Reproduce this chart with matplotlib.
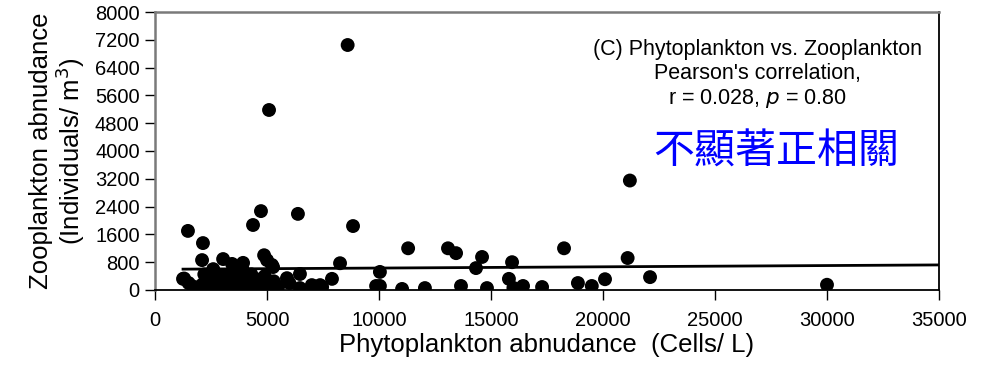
import numpy as np
import matplotlib
matplotlib.use('Agg')
import matplotlib.pyplot as plt

plt.rcParams['font.family'] = ['Liberation Sans', 'DejaVu Sans']

# Phytoplankton (cells/L) vs zooplankton (ind/m3)
phyto = [8600, 5090, 21200, 30000, 22100, 11300, 13080, 13440, 14600, 14330,
         15940, 15800, 16000, 16430, 17280, 18260, 18880, 19500, 20090, 21100,
         10040, 10040, 11030, 12050, 13660, 14820, 8840, 8260, 7900, 9870,
         1470, 2140, 4730, 4375, 6380, 2100, 3040, 3930, 4870, 5000,
         5270, 6470, 7050, 7460, 5890, 6470, 2590, 1250, 5220, 7000,
         7370, 1300, 1500, 1700, 1900, 2100, 2200, 2300, 2500, 2600,
         2700, 2900, 3100, 3200, 3400, 3500, 3600, 3800, 3900, 4000,
         4200, 4300, 4400, 4600, 4700, 4900, 5100, 5300, 5500, 6000,
         3440, 2900, 4100]
zoo = [7050, 5180, 3150, 150, 370, 1200, 1200, 1060, 950, 630,
       800, 320, 60, 115, 85, 1200, 200, 115, 310, 920,
       520, 115, 30, 55, 115, 55, 1840, 770, 320, 115,
       1700, 1350, 2270, 1870, 2190, 860, 890, 780, 1000, 860,
       660, 460, 115, 85, 340, 55, 575, 320, 720, 140,
       140, 330, 200, 100, 50, 150, 450, 20, 300, 600,
       80, 200, 400, 30, 250, 500, 120, 350, 600, 60,
       200, 450, 20, 300, 130, 400, 50, 250, 100, 200,
       750, 380, 330]

# regression line as reported (zoo = a + b * phyto)
fit_intercept = 595
fit_slope = 0.0036

x_ticks = np.arange(0, 35001, 5000)
y_ticks = np.arange(0, 8001, 800)

title_lines = "(C) Phytoplankton vs. Zooplankton\nPearson's correlation,\nr = 0.028, $\\it{p}$ = 0.80"
note_cn = '不顯著正相關'

fig = plt.figure(figsize=(9.95, 3.66), dpi=100)
ax = fig.add_axes([0.1558, 0.2077, 0.7879, 0.7595])

ax.scatter(phyto, zoo, s=100, c='black', edgecolors='none', zorder=3)

xs = np.array([min(phyto), 35000])
ax.plot(xs, fit_intercept + fit_slope * xs, color='black', lw=2, zorder=2)

ax.set_xlim(0, 35000)
ax.set_ylim(0, 8000)
ax.set_xticks(x_ticks)
ax.set_yticks(y_ticks)
ax.tick_params(axis='both', direction='out', length=7, width=1, labelsize=14.5, colors='black')
ax.tick_params(axis='x', pad=8)
ax.tick_params(axis='y', pad=4)

for side in ['left', 'top']:
    ax.spines[side].set_color('#7a7a7a')
    ax.spines[side].set_linewidth(1.8)
for side in ['bottom', 'right']:
    ax.spines[side].set_color('black')
    ax.spines[side].set_linewidth(1.3)

ax.set_xlabel('Phytoplankton abnudance  (Cells/ L)', fontsize=18.5, labelpad=2)
ax.set_ylabel('Zooplankton abnudance\n(Individuals/ m$^3$)', fontsize=18.5, labelpad=6,
              linespacing=1.0)

ax.text(0.768, 0.775, title_lines, transform=ax.transAxes, ha='center', va='center',
        fontsize=15.5, linespacing=1.2)
ax.text(0.793, 0.496, note_cn, transform=ax.transAxes, ha='center', va='center',
        fontsize=29.5, color='#0000ff', family=['Noto Sans CJK TC', 'DejaVu Sans'])

fig.savefig('out.png', dpi=100)
